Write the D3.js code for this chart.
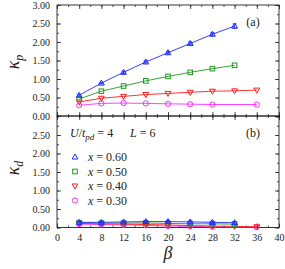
<!DOCTYPE html>
<html>
<head>
<meta charset="utf-8">
<script src="https://cdn.jsdelivr.net/npm/d3@7"></script>
<style>
body { margin: 0; background: #fff; }
svg, .axis { font-family: "Liberation Serif", "DejaVu Serif", serif; }
.tick text { font-size: 10px; fill: #222; }
.axis path { display: none; }
.axis line { stroke: #222; stroke-width: 0.8; }
</style>
</head>
<body>
<svg id="chart" width="285" height="269"></svg>
<script>
// beta values per series
let betaBlue = [4, 8, 12, 16, 20, 24, 28, 32];
let betaGreen = [4, 8, 12, 16, 20, 24, 28, 32];
let betaRed = [4, 8, 12, 16, 20, 24, 28, 32, 36];
let betaMagenta = [4, 8, 12, 16, 20, 24, 28, 36];

// kappa_p (panel a)
let kpBlue = [0.56, 0.89, 1.18, 1.46, 1.71, 1.96, 2.21, 2.43];
let kpBlueErr = [0.02, 0.02, 0.03, 0.03, 0.03, 0.04, 0.04, 0.06];
let kpGreen = [0.46, 0.67, 0.81, 0.95, 1.07, 1.18, 1.28, 1.37];
let kpRed = [0.38, 0.48, 0.53, 0.58, 0.61, 0.64, 0.67, 0.68, 0.70];
let kpMagenta = [0.29, 0.34, 0.35, 0.34, 0.33, 0.32, 0.31, 0.31];

// kappa_d (panel b)
let kdBlue = [0.14, 0.14, 0.15, 0.16, 0.16, 0.15, 0.14, 0.13];
let kdBlueErr = [0.02, 0.02, 0.03, 0.03, 0.03, 0.03, 0.03, 0.03];
let kdGreen = [0.13, 0.12, 0.12, 0.12, 0.11, 0.10, 0.10, 0.09];
let kdRed = [0.11, 0.10, 0.09, 0.08, 0.07, 0.05, 0.04, 0.03, 0.02];
let kdMagenta = [0.09, 0.08, 0.07, 0.06, 0.04, 0.03, 0.02, 0.01];

let xTicks = d3.range(0, 41, 4);
let yTicksA = [0, 0.5, 1, 1.5, 2, 2.5, 3];
let yTicksB = [0, 0.5, 1, 1.5, 2, 2.5];
let legendLabels = ["x = 0.60", "x = 0.50", "x = 0.40", "x = 0.30"];

let series = [
    {name: legendLabels[0], color: "#1f2bff", shape: "up", beta: betaBlue, a: kpBlue, aErr: kpBlueErr, b: kdBlue, bErr: kdBlueErr},
    {name: legendLabels[1], color: "#1f9a1f", shape: "square", beta: betaGreen, a: kpGreen, b: kdGreen},
    {name: legendLabels[2], color: "#ff1a1a", shape: "down", beta: betaRed, a: kpRed, b: kdRed},
    {name: legendLabels[3], color: "#ff2bff", shape: "circle", beta: betaMagenta, a: kpMagenta, b: kdMagenta}
];

let svg = d3.select("#chart");
let left = 57, right = 279;
let xScale = d3.scaleLinear().domain([0, 40]).range([left, right]);
let yA = d3.scaleLinear().domain([0, 3]).range([116, 5]);
let yB = d3.scaleLinear().domain([0, 3]).range([227.5, 116.5]);

function marker(g, shape, color) {
    let s = 2.6;
    if (shape == "circle") {
        g.append("circle").attr("r", s).attr("fill", "none").attr("stroke", color).attr("stroke-width", 1);
    } else if (shape == "square") {
        g.append("rect").attr("x", -s + 0.3).attr("y", -s + 0.3).attr("width", 2 * s - 0.6).attr("height", 2 * s - 0.6)
            .attr("fill", "none").attr("stroke", color).attr("stroke-width", 1);
    } else {
        let d = shape == "up" ? `M0,${-s - 0.4}L${s + 0.3},${s - 0.6}L${-s - 0.3},${s - 0.6}Z`
                              : `M0,${s + 0.4}L${s + 0.3},${-s + 0.6}L${-s - 0.3},${-s + 0.6}Z`;
        g.append("path").attr("d", d).attr("fill", "none").attr("stroke", color).attr("stroke-width", 1);
    }
}

function panel(yScale, key, yTicks, tag, top, bottom) {
    let g = svg.append("g");
    let minorX = d3.range(0, 41, 2);
    let minorY = d3.range(0, 3.01, 0.25);
    // axes with inward ticks
    g.append("g").attr("class", "axis").attr("transform", `translate(0,${bottom})`)
        .call(d3.axisBottom(xScale).tickValues(minorX).tickSize(-2).tickFormat(""));
    g.append("g").attr("class", "axis").attr("transform", `translate(0,${bottom})`)
        .call(d3.axisBottom(xScale).tickValues(xTicks).tickSize(-4).tickFormat(""));
    g.append("g").attr("class", "axis").attr("transform", `translate(0,${top})`)
        .call(d3.axisTop(xScale).tickValues(minorX).tickSize(-2).tickFormat(""));
    g.append("g").attr("class", "axis").attr("transform", `translate(0,${top})`)
        .call(d3.axisTop(xScale).tickValues(xTicks).tickSize(-4).tickFormat(""));
    g.append("g").attr("class", "axis").attr("transform", `translate(${left},0)`)
        .call(d3.axisLeft(yScale).tickValues(minorY).tickSize(-2).tickFormat(""));
    g.append("g").attr("class", "axis").attr("transform", `translate(${left},0)`)
        .call(d3.axisLeft(yScale).tickValues(yTicks).tickSize(-4).tickPadding(7).tickFormat(d3.format(".2f")));
    g.append("g").attr("class", "axis").attr("transform", `translate(${right},0)`)
        .call(d3.axisRight(yScale).tickValues(minorY).tickSize(-2).tickFormat(""));
    g.append("g").attr("class", "axis").attr("transform", `translate(${right},0)`)
        .call(d3.axisRight(yScale).tickValues([0, 0.5, 1, 1.5, 2, 2.5, 3]).tickSize(-4).tickFormat(""));
    g.append("rect").attr("x", left).attr("y", top).attr("width", right - left).attr("height", bottom - top)
        .attr("fill", "none").attr("stroke", "#222").attr("stroke-width", 0.9);

    let line = d3.line().x(d => xScale(d[0])).y(d => yScale(d[1]));
    series.slice().reverse().forEach(s => {
        let pts = s.beta.map((b, i) => [b, s[key][i]]);
        g.append("path").attr("d", line(pts)).attr("fill", "none").attr("stroke", s.color).attr("stroke-width", 0.9);
        let err = s[key + "Err"];
        pts.forEach((p, i) => {
            let m = g.append("g").attr("transform", `translate(${xScale(p[0])},${yScale(p[1])})`);
            if (err) {
                let e1 = yScale(p[1] + err[i]) - yScale(p[1]), e2 = yScale(p[1] - err[i]) - yScale(p[1]);
                m.append("path").attr("d", `M0,${e1}V${e2}M-2,${e1}H2M-2,${e2}H2`)
                    .attr("stroke", s.color).attr("stroke-width", 0.9).attr("fill", "none");
            }
            marker(m, s.shape, s.color);
        });
    });
    g.append("text").attr("x", 253).attr("y", top + 21).attr("text-anchor", "middle")
        .style("font-size", "12px").attr("fill", "#222").text(tag);
    return g;
}

panel(yA, "a", yTicksA, "(a)", 5, 116);
panel(yB, "b", yTicksB, "(b)", 116, 227.5);

// x tick labels under bottom panel
svg.append("g").attr("class", "axis").attr("transform", `translate(0,227.5)`)
    .call(d3.axisBottom(xScale).tickValues(xTicks).tickSize(0).tickPadding(6));

// axis labels
svg.append("text").attr("x", xScale(20)).attr("y", 259).attr("text-anchor", "middle")
    .style("font-size", "18px").style("font-style", "italic").attr("fill", "#222").text("β");

function yLabel(y, sub) {
    let t = svg.append("text").attr("transform", `translate(19,${y}) rotate(-90)`).attr("text-anchor", "middle")
        .style("font-size", "18px").style("font-style", "italic").attr("fill", "#222");
    t.append("tspan").text("κ");
    t.append("tspan").attr("dy", 4).style("font-size", "12px").text(sub);
}
yLabel(62, "p");
yLabel(168, "d");

// parameters text
let pt = svg.append("text").attr("x", 70).attr("y", 137).style("font-size", "12px").attr("fill", "#222");
pt.append("tspan").style("font-style", "italic").text("U");
pt.append("tspan").text("/");
pt.append("tspan").style("font-style", "italic").text("t");
pt.append("tspan").attr("dy", 3).style("font-size", "9px").style("font-style", "italic").text("pd");
pt.append("tspan").attr("dy", -3).text(" = 4");
let lt = svg.append("text").attr("x", 130).attr("y", 137).style("font-size", "12px").attr("fill", "#222");
lt.append("tspan").style("font-style", "italic").text("L");
lt.append("tspan").text(" = 6");

// legend
series.forEach((s, i) => {
    let y = 157 + i * 14.5;
    let m = svg.append("g").attr("transform", `translate(75,${y})`);
    marker(m, s.shape, s.color);
    let t = svg.append("text").attr("x", 88).attr("y", y + 4).style("font-size", "12px").attr("fill", "#222");
    t.append("tspan").style("font-style", "italic").text("x");
    t.append("tspan").text(s.name.slice(1));
});
</script>
</body>
</html>
